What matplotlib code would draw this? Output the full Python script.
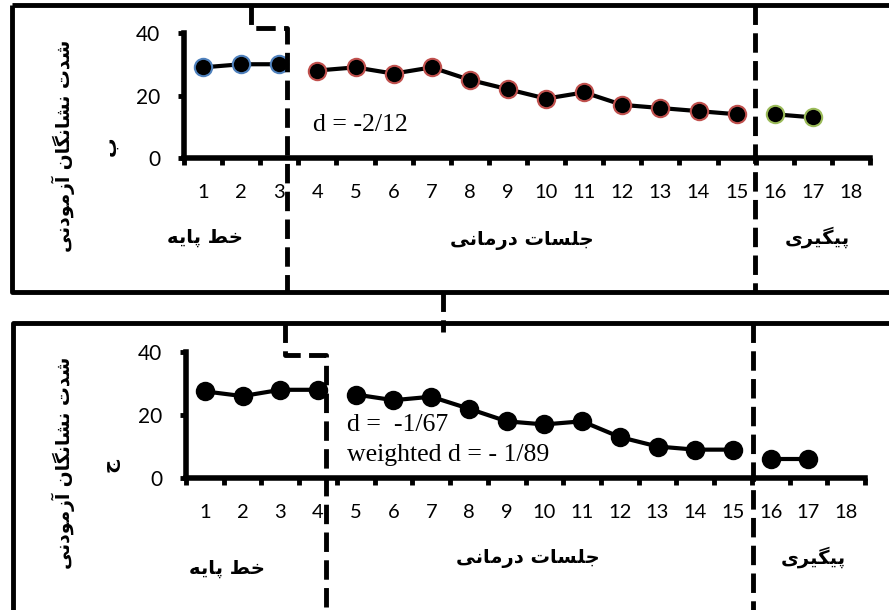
import matplotlib
matplotlib.use('Agg')
import matplotlib.pyplot as plt
from matplotlib.lines import Line2D

plt.rcParams['lines.scale_dashes'] = False

# ---------------- data ----------------
categories = [str(i) for i in range(1, 19)]
y_ticks = [0, 20, 40]

top_base_x = [1, 2, 3]
top_base_y = [29, 30, 30]
top_treat_x = [4, 5, 6, 7, 8, 9, 10, 11, 12, 13, 14, 15]
top_treat_y = [28, 29, 27, 29, 25, 22, 19, 21, 17, 16, 15, 14]
top_follow_x = [16, 17]
top_follow_y = [14, 13]

bot_base_x = [1, 2, 3, 4]
bot_base_y = [27.5, 26, 28, 28]
bot_treat_x = [5, 6, 7, 8, 9, 10, 11, 12, 13, 14, 15]
bot_treat_y = [26.5, 24.7, 25.8, 22, 18, 17, 18, 13, 10, 9, 9]
bot_follow_x = [16, 17]
bot_follow_y = [6, 6]

ylabel_text = "شدت نشانگان آزمودنی"
phase_labels = ["خط پایه", "جلسات درمانی", "پیگیری"]
panel_letters = ["ب", "ج"]
top_note = "d = -2/12"
bot_note = ["d =  -1/67", "weighted d = - 1/89"]

# ---------------- simple Persian shaping ----------------
FORMS = {
    'ا': ('\uFE8D', '\uFE8E', None, None),
    'آ': ('\uFE81', '\uFE82', None, None),
    'ب': ('\uFE8F', '\uFE90', '\uFE91', '\uFE92'),
    'ت': ('\uFE95', '\uFE96', '\uFE97', '\uFE98'),
    'ج': ('\uFE9D', '\uFE9E', '\uFE9F', '\uFEA0'),
    'خ': ('\uFEA5', '\uFEA6', '\uFEA7', '\uFEA8'),
    'د': ('\uFEA9', '\uFEAA', None, None),
    'ر': ('\uFEAD', '\uFEAE', None, None),
    'ز': ('\uFEAF', '\uFEB0', None, None),
    'س': ('\uFEB1', '\uFEB2', '\uFEB3', '\uFEB4'),
    'ش': ('\uFEB5', '\uFEB6', '\uFEB7', '\uFEB8'),
    'ط': ('\uFEC1', '\uFEC2', '\uFEC3', '\uFEC4'),
    'ل': ('\uFEDD', '\uFEDE', '\uFEDF', '\uFEE0'),
    'م': ('\uFEE1', '\uFEE2', '\uFEE3', '\uFEE4'),
    'ن': ('\uFEE5', '\uFEE6', '\uFEE7', '\uFEE8'),
    'ه': ('\uFEE9', '\uFEEA', '\uFEEB', '\uFEEC'),
    'و': ('\uFEED', '\uFEEE', None, None),
    'پ': ('\uFB56', '\uFB57', '\uFB58', '\uFB59'),
    'گ': ('\uFB92', '\uFB93', '\uFB94', '\uFB95'),
    'ی': ('\uFBFC', '\uFBFD', '\uFBFE', '\uFBFF'),
}


def shape(text):
    out = []
    n = len(text)
    for i, ch in enumerate(text):
        if ch not in FORMS:
            out.append(ch)
            continue
        prev = text[i - 1] if i > 0 else None
        nxt = text[i + 1] if i < n - 1 else None
        joins_prev = prev in FORMS and FORMS[prev][2] is not None
        joins_next = nxt in FORMS and FORMS[ch][2] is not None
        iso, fin, ini, med = FORMS[ch]
        if joins_prev and joins_next:
            out.append(med)
        elif joins_prev:
            out.append(fin)
        elif joins_next:
            out.append(ini)
        else:
            out.append(iso)
    return ''.join(out)[::-1]


# ---------------- figure ----------------
W, H = 889, 610
fig = plt.figure(figsize=(W / 100, H / 100), dpi=100)


def fx(px):
    return px / W


def fy(py):
    return 1 - py / H


xtick_font = dict(family='Lato', size=14.5)
ytick_font = dict(family='Lato', size=15)
fa_font = dict(family=['DejaVu Sans'], weight='bold')

BLUE = '#4F81BD'
RED = '#C0504D'
GREEN = '#9BBB59'


def style_axes(ax):
    ax.set_xlim(0, len(categories))
    ax.set_ylim(0, 40)
    for s in ['top', 'right']:
        ax.spines[s].set_visible(False)
    for s in ['left', 'bottom']:
        ax.spines[s].set_linewidth(4)
    ax.set_xticks(range(0, len(categories) + 1))
    ax.set_xticklabels([])
    ax.set_xticks([i + 0.5 for i in range(len(categories))], minor=True)
    ax.set_xticklabels(categories, minor=True, **xtick_font)
    ax.tick_params(axis='x', which='major', direction='out', length=5, width=3.5)
    ax.tick_params(axis='x', which='minor', length=0, pad=19)
    ax.set_yticks(y_ticks)
    ax.set_yticklabels([str(v) for v in y_ticks], **ytick_font)
    ax.tick_params(axis='y', direction='out', length=4, width=3.5, pad=13)
    ax.patch.set_alpha(0)


def plot_seg(ax, xs, ys, edge):
    ax.plot([x - 0.5 for x in xs], ys, color='black', lw=3, marker='o',
            markersize=12.5, markerfacecolor='black', markeredgecolor=edge,
            markeredgewidth=1.5, clip_on=False, zorder=5)


# top axes
ax1 = fig.add_axes([fx(184), fy(158), (870 - 184) / W, (158 - 33) / H])
style_axes(ax1)
plot_seg(ax1, top_base_x, top_base_y, BLUE)
plot_seg(ax1, top_treat_x, top_treat_y, RED)
plot_seg(ax1, top_follow_x, top_follow_y, GREEN)

# bottom axes
ax2 = fig.add_axes([fx(186), fy(478), (865 - 186) / W, (478 - 352) / H])
style_axes(ax2)
plot_seg(ax2, bot_base_x, bot_base_y, 'black')
plot_seg(ax2, bot_treat_x, bot_treat_y, 'black')
plot_seg(ax2, bot_follow_x, bot_follow_y, 'black')


def fline(xs, ys, dashed=False, lw=3.5):
    ln = Line2D([fx(x) for x in xs], [fy(y) for y in ys], transform=fig.transFigure,
                color='black', lw=lw, solid_capstyle='butt', dash_capstyle='butt')
    if dashed:
        ln.set_dashes([14, 6])
    fig.add_artist(ln)


# outer boxes (extend past right edge)
fline([12, 12, 900], [5, 292, 292])
fline([12, 900], [5, 5])
fline([13, 13, 900], [610, 323, 323])

# connector between panels
fline([443, 443], [292, 332], dashed=True)

# phase change lines, top panel
fline([251, 251, 287, 287], [5, 28, 28, 292], dashed=True)
fline([755, 755], [5, 292], dashed=True)
# phase change lines, bottom panel
fline([285, 285, 326, 326], [323, 355, 355, 612], dashed=True)
fline([753, 753], [323, 612], dashed=True)

# y labels & panel letters
for yc in [146, 463]:
    fig.text(fx(63), fy(yc), shape(ylabel_text), rotation=90, ha='center', va='center',
             fontsize=13.5, **fa_font)
for yc, letter in [(146, panel_letters[0]), (465, panel_letters[1])]:
    fig.text(fx(110), fy(yc), shape(letter), rotation=90, ha='center', va='center',
             fontsize=14, **fa_font)

# phase labels
for (xc, yc), lab in zip([(205, 237), (522, 240), (817, 237)], phase_labels):
    fig.text(fx(xc), fy(yc), shape(lab), ha='center', va='center', fontsize=14, **fa_font)
for (xc, yc), lab in zip([(227, 568), (528, 558), (813, 557)], phase_labels):
    fig.text(fx(xc), fy(yc), shape(lab), ha='center', va='center', fontsize=14, **fa_font)

# effect-size notes
serif = dict(family='Liberation Serif', size=18.5)
fig.text(fx(313), fy(125), top_note, ha='left', va='center', **serif)
fig.text(fx(347), fy(425), bot_note[0], ha='left', va='center', **serif)
fig.text(fx(347), fy(455), bot_note[1], ha='left', va='center', **serif)

fig.savefig('out.png', dpi=100)
